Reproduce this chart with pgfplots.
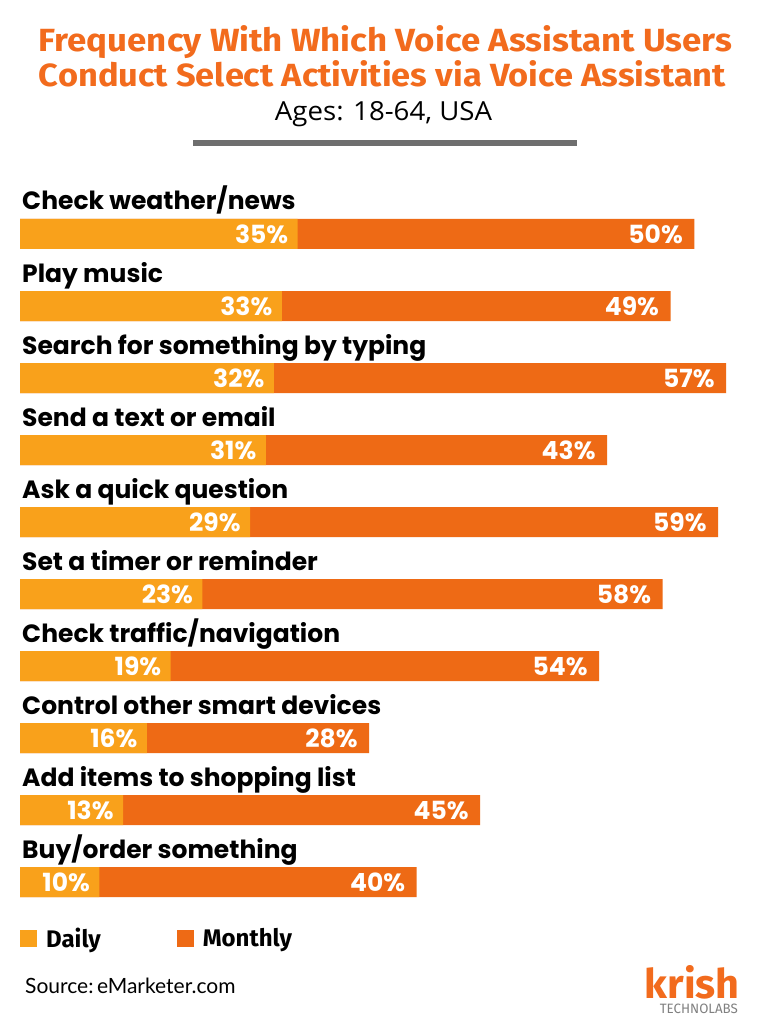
\documentclass[border=0pt]{standalone}
\usepackage{pgfplots}
\pgfplotsset{compat=1.18}
\usepackage{pgfplotstable}
\usepackage{graphicx}
\usepackage{fontspec}
\setmainfont{Poppins}
\newfontfamily\titlefont{Fira Sans}
\newfontfamily\subfont{Open Sans}
\newfontfamily\srcfont{Lato}
\newfontfamily\legfont{Fira Sans}
\definecolor{daily}{HTML}{F9A11B}
\definecolor{monthly}{HTML}{EE6A15}
\definecolor{titleor}{HTML}{F26B1D}
\definecolor{sepgray}{HTML}{6E6E6E}
\pgfplotstableread{
y d m
0 35 50
-1 33 49
-2 32 57
-3 31 43
-4 29 59
-5 23 58
-6 19 54
-7 16 28
-8 13 45
-9 10 40
}\datatable
\begin{document}
\begin{tikzpicture}
\path[use as bounding box, fill=white] (0pt,0pt) rectangle (770pt,-1024pt);
\node[anchor=base, text=titleor, inner sep=0pt] at (385.5pt,-52pt) {\resizebox{693pt}{26pt}{\titlefont\bfseries Frequency With Which Voice Assistant Users}};
\node[anchor=base, text=titleor, inner sep=0pt] at (382.5pt,-87pt) {\resizebox{687pt}{26pt}{\titlefont\bfseries Conduct Select Activities via Voice Assistant}};
\node[anchor=base, text=black, inner sep=0pt] at (383.5pt,-121pt) {\resizebox{217pt}{19pt}{\subfont Ages: 18-64, USA}};
\fill[sepgray] (193pt,-140pt) rectangle (577pt,-146pt);
\begin{axis}[
  at={(20pt,-918pt)}, anchor=south west,
  scale only axis, width=714pt, height=720pt,
  xmin=0, xmax=90, ymin=-9.5, ymax=0.5,
  xbar, bar width=30pt, bar shift=0pt,
  axis line style={draw=none}, major tick length=0pt,
  xtick=\empty,
  ytick={0,-1,-2,-3,-4,-5,-6,-7,-8,-9},
  yticklabels={Check weather/news,Play music,Search for something by typing,Send a text or email,Ask a quick question,Set a timer or reminder,Check traffic/navigation,Control other smart devices,Add items to shopping list,Buy/order something},
  yticklabel style={anchor=base west, inner sep=0pt, xshift=2pt, yshift=24pt, font=\bfseries\fontsize{25}{25}\selectfont},
  /pgf/number format/assume math mode=true,
  nodes near coords={\pgfmathprintnumber{\pgfplotspointmeta}\%},
  point meta=explicit,
  clip=false,
  legend style={at={(0,-0.011)}, anchor=north west, draw=none, fill=none, legend columns=2, inner sep=0pt,
    font=\legfont\bfseries\fontsize{24}{24}\selectfont,
    /tikz/every even column/.append style={column sep=74pt}, cells={anchor=west}},
  legend image code/.code={\path[#1,draw=none] (0pt,-8.5pt) rectangle (17pt,8.5pt); \path (24pt,0pt);},
]
\addlegendimage{fill=daily, draw=none}
\addlegendentry{Daily}
\addlegendimage{fill=monthly, draw=none}
\addlegendentry{Monthly}
\addplot[forget plot, fill=monthly, draw=none, every node near coord/.append style={anchor=east, xshift=-8pt, text=white, font=\bfseries\fontsize{25}{25}\selectfont}] table[x expr=\thisrow{d}+\thisrow{m}, y=y, meta=m] {\datatable};
\addplot[forget plot, fill=daily, draw=none, every node near coord/.append style={anchor=east, xshift=-6pt, text=white, font=\bfseries\fontsize{25}{25}\selectfont}] table[x=d, y=y, meta=d] {\datatable};
\end{axis}
\node[anchor=base west, inner sep=0pt] at (25pt,-993pt) {\srcfont\fontsize{21}{21}\selectfont Source:\,eMarketer.com};
\node[anchor=base east, inner sep=0pt, text=titleor] at (740pt,-998pt) {\resizebox{95pt}{33pt}{\legfont\bfseries krish}};
\node[anchor=base east, inner sep=0pt, text=gray] at (738pt,-1013pt) {\resizebox{78pt}{9.5pt}{\legfont TECHNOLABS}};
\end{tikzpicture}
\end{document}
